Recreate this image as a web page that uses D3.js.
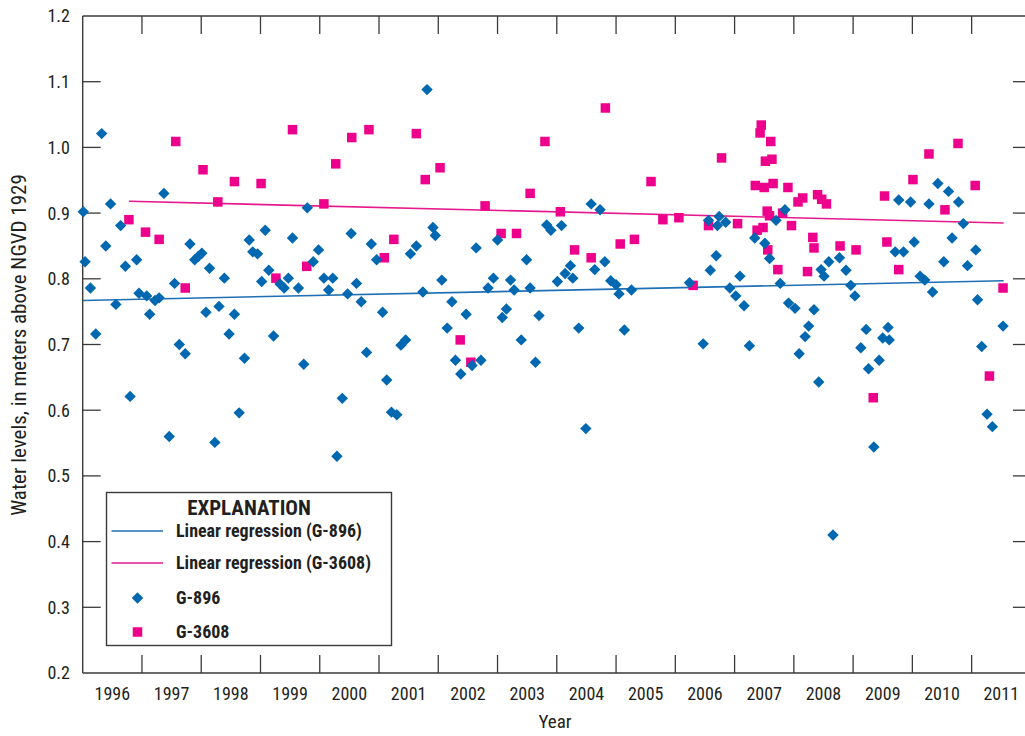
<!DOCTYPE html>
<html><head><meta charset="utf-8">
<script src="https://cdn.jsdelivr.net/npm/d3@7"></script>
<style>
html,body{margin:0;padding:0;background:#fff;}
svg{display:block;}
text{font-family:"Liberation Sans Narrow","Arial Narrow","Roboto Condensed","Liberation Sans",sans-serif;fill:#231f20;}
</style></head>
<body>
<svg id="chart" width="1025" height="736"></svg>
<script>
// ---- data (decimal year, water level in m above NGVD 1929) ----
const g896Year = [1996.01,1996.04,1996.13,1996.22,1996.32,1996.39,1996.47,1996.56,1996.64,1996.72,1996.80,1996.91,1996.95,
1997.08,1997.13,1997.22,1997.29,1997.37,1997.46,1997.55,1997.63,1997.73,1997.81,1997.89,1997.95,
1998.01,1998.08,1998.14,1998.23,1998.30,1998.39,1998.47,1998.56,1998.64,1998.73,1998.81,1998.87,1998.95,
1999.02,1999.08,1999.14,1999.22,1999.33,1999.40,1999.47,1999.54,1999.64,1999.73,1999.79,1999.89,1999.98,
2000.07,2000.15,2000.22,2000.29,2000.38,2000.47,2000.53,2000.62,2000.70,2000.79,2000.87,2000.96,
2001.06,2001.13,2001.21,2001.30,2001.37,2001.45,2001.53,2001.63,2001.74,2001.81,2001.91,2001.95,
2002.06,2002.15,2002.23,2002.29,2002.38,2002.47,2002.57,2002.64,2002.72,2002.84,2002.93,
2003.00,2003.08,2003.15,2003.22,2003.28,2003.40,2003.49,2003.55,2003.64,2003.70,2003.83,2003.90,
2004.01,2004.08,2004.14,2004.23,2004.27,2004.37,2004.49,2004.58,2004.64,2004.73,2004.81,2004.91,
2005.00,2005.05,2005.14,2005.26,
2006.24,2006.47,2006.56,2006.59,2006.69,2006.71,2006.74,2006.85,2006.92,
2007.02,2007.09,2007.16,2007.25,2007.34,2007.51,2007.59,2007.70,2007.77,2007.85,2007.91,
2008.02,2008.09,2008.19,2008.25,2008.34,2008.42,2008.46,2008.51,2008.59,2008.66,2008.77,2008.88,2008.96,
2009.03,2009.13,2009.22,2009.26,2009.35,2009.44,2009.50,2009.59,2009.61,2009.71,2009.77,2009.85,2009.97,
2010.03,2010.13,2010.21,2010.28,2010.34,2010.43,2010.53,2010.61,2010.67,2010.78,2010.86,2010.93,
2011.07,2011.10,2011.17,2011.26,2011.35,2011.53];
const g896Level = [0.902,0.826,0.786,0.716,1.021,0.850,0.914,0.761,0.881,0.819,0.621,0.829,0.778,
0.774,0.746,0.767,0.771,0.930,0.560,0.793,0.700,0.686,0.853,0.829,0.834,
0.839,0.749,0.816,0.551,0.758,0.801,0.716,0.746,0.596,0.679,0.859,0.841,0.838,
0.796,0.874,0.813,0.713,0.792,0.786,0.801,0.862,0.786,0.670,0.908,0.826,0.844,
0.801,0.783,0.801,0.530,0.618,0.777,0.869,0.793,0.765,0.688,0.853,0.829,
0.749,0.646,0.597,0.593,0.699,0.707,0.838,0.850,0.780,1.088,0.878,0.866,
0.798,0.725,0.765,0.676,0.655,0.746,0.668,0.847,0.676,0.786,0.801,
0.859,0.741,0.754,0.798,0.783,0.707,0.829,0.786,0.673,0.744,0.882,0.874,
0.796,0.881,0.808,0.820,0.801,0.725,0.572,0.914,0.814,0.905,0.826,0.797,
0.791,0.777,0.722,0.783,
0.794,0.701,0.889,0.813,0.835,0.881,0.895,0.886,0.786,
0.774,0.804,0.759,0.698,0.862,0.854,0.831,0.889,0.793,0.905,0.763,
0.755,0.686,0.712,0.728,0.753,0.643,0.814,0.804,0.826,0.410,0.832,0.813,0.790,
0.774,0.695,0.723,0.663,0.544,0.676,0.710,0.726,0.707,0.841,0.920,0.841,0.917,
0.856,0.804,0.798,0.914,0.780,0.945,0.826,0.933,0.862,0.917,0.884,0.820,
0.844,0.768,0.697,0.594,0.575,0.728];

const g3608Year = [1996.78,1997.06,1997.29,1997.57,1997.73,1998.03,1998.28,1998.56,1999.01,1999.26,1999.54,1999.78,
2000.07,2000.27,2000.54,2000.83,2001.09,2001.25,2001.63,2001.78,2002.03,2002.37,2002.55,2002.79,
2003.06,2003.32,2003.55,2003.80,2004.06,2004.30,2004.58,2004.82,2005.07,2005.31,2005.59,2005.79,
2006.06,2006.30,2006.56,2006.78,2007.05,2007.35,2007.38,2007.48,2007.45,2007.43,2007.61,2007.52,2007.63,
2007.50,2007.65,2007.90,2007.55,2007.59,2007.81,2007.96,2007.56,2007.73,
2008.07,2008.15,2008.23,2008.32,2008.34,2008.40,2008.47,2008.55,2008.78,
2009.05,2009.34,2009.53,2009.57,2009.77,2010.01,2010.28,2010.55,2010.77,2011.06,2011.30,2011.53];
const g3608Level = [0.890,0.871,0.860,1.009,0.786,0.966,0.917,0.948,0.945,0.801,1.027,0.819,
0.914,0.975,1.015,1.027,0.832,0.860,1.021,0.951,0.969,0.707,0.673,0.911,
0.869,0.869,0.930,1.009,0.902,0.844,0.832,1.060,0.853,0.860,0.948,0.890,
0.893,0.790,0.881,0.984,0.884,0.942,0.874,0.878,1.034,1.022,1.009,0.979,0.982,
0.939,0.945,0.939,0.903,0.896,0.900,0.881,0.844,0.814,
0.917,0.923,0.811,0.863,0.847,0.928,0.921,0.914,0.850,
0.844,0.619,0.926,0.856,0.814,0.951,0.990,0.905,1.006,0.942,0.652,0.786];

const regG896Year = [1996.0, 2011.54];
const regG896Level = [0.767, 0.797];
const regG3608Year = [1996.78, 2011.54];
const regG3608Level = [0.918, 0.885];

const yearBoundaries = d3.range(1996, 2013);           // tick marks
const yearLabels = d3.range(1996, 2012);               // labels at mid-year
const levelTicks = [0.2,0.3,0.4,0.5,0.6,0.7,0.8,0.9,1.0,1.1,1.2];

const BLUE = "#0067b1", PINK = "#ec008c";
const BLUE_LINE = "#1f6fb3", PINK_LINE = "#e6188d";

// ---- layout ----
const svg = d3.select("#chart");
const x = d3.scaleLinear().domain([1996, 2012]).range([82.7, 1030.9]);
const y = d3.scaleLinear().domain([0.2, 1.2]).range([673, 16]);

const frameColor = "#3a3a3a";
const TL = 18;

// frame
const g = svg.append("g");
g.append("line").attr("x1", x(1996)).attr("x2", x(2012)).attr("y1", y(1.2)).attr("y2", y(1.2)).attr("stroke", frameColor).attr("stroke-width", 1.4);
g.append("line").attr("x1", x(1996)).attr("x2", x(2012)).attr("y1", y(0.2)).attr("y2", y(0.2)).attr("stroke", frameColor).attr("stroke-width", 1.4);
g.append("line").attr("x1", x(1996)).attr("x2", x(1996)).attr("y1", y(1.2)).attr("y2", y(0.2)).attr("stroke", frameColor).attr("stroke-width", 1.4);
g.append("line").attr("x1", x(2012)).attr("x2", x(2012)).attr("y1", y(1.2)).attr("y2", y(0.2)).attr("stroke", frameColor).attr("stroke-width", 1.4);

// x ticks (inward, top and bottom)
yearBoundaries.slice(1, -1).forEach(v => {
  g.append("line").attr("x1", x(v)).attr("x2", x(v)).attr("y1", y(0.2)).attr("y2", y(0.2) - TL).attr("stroke", frameColor).attr("stroke-width", 1.3);
  g.append("line").attr("x1", x(v)).attr("x2", x(v)).attr("y1", y(1.2)).attr("y2", y(1.2) + TL).attr("stroke", frameColor).attr("stroke-width", 1.3);
});
// y ticks (inward, left and right)
levelTicks.slice(1, -1).forEach(v => {
  g.append("line").attr("x1", x(1996)).attr("x2", x(1996) + TL).attr("y1", y(v)).attr("y2", y(v)).attr("stroke", frameColor).attr("stroke-width", 1.3);
  g.append("line").attr("x1", x(2012)).attr("x2", x(2012) - TL).attr("y1", y(v)).attr("y2", y(v)).attr("stroke", frameColor).attr("stroke-width", 1.3);
});

// tick labels
g.selectAll("text.yl").data(levelTicks).enter().append("text")
  .attr("class", "yl").attr("x", 70).attr("y", d => y(d)).attr("dy", "0.36em")
  .attr("text-anchor", "end").style("font-size", "18px").text(d => d.toFixed(1));
g.selectAll("text.xl").data(yearLabels).enter().append("text")
  .attr("class", "xl").attr("x", d => x(d + 0.5)).attr("y", 700)
  .attr("text-anchor", "middle").style("font-size", "18px").text(d => d);

// axis titles
svg.append("text").attr("x", 555).attr("y", 728).attr("text-anchor", "middle")
  .style("font-size", "19px").text("Year");
svg.append("text").attr("transform", "translate(26,345) rotate(-90)").attr("text-anchor", "middle")
  .style("font-size", "21px").text("Water levels, in meters above NGVD 1929");

// regression lines
const line = d3.line().x(d => x(d[0])).y(d => y(d[1]));
svg.append("path").datum(d3.zip(regG896Year, regG896Level)).attr("d", line)
  .attr("fill", "none").attr("stroke", BLUE_LINE).attr("stroke-width", 1.6);
svg.append("path").datum(d3.zip(regG3608Year, regG3608Level)).attr("d", line)
  .attr("fill", "none").attr("stroke", PINK_LINE).attr("stroke-width", 1.6);

// markers
const D = 5.7;   // half diagonal of diamond
const S = 9.5;   // square side
const diamondPath = `M0,${-D}L${D},0L0,${D}L${-D},0Z`;
svg.append("g").selectAll("rect").data(d3.zip(g3608Year, g3608Level)).enter().append("rect")
  .attr("x", d => x(d[0]) - S / 2).attr("y", d => y(d[1]) - S / 2)
  .attr("width", S).attr("height", S).attr("fill", PINK);
svg.append("g").selectAll("path").data(d3.zip(g896Year, g896Level)).enter().append("path")
  .attr("transform", d => `translate(${x(d[0])},${y(d[1])})`)
  .attr("d", diamondPath).attr("fill", BLUE);

// legend
const lg = svg.append("g");
lg.append("rect").attr("x", 106.5).attr("y", 492.5).attr("width", 285).attr("height", 153)
  .attr("fill", "#fff").attr("stroke", frameColor).attr("stroke-width", 1.4);
lg.append("text").attr("x", 249).attr("y", 515).attr("text-anchor", "middle")
  .style("font-size", "21px").style("font-weight", "bold").text("EXPLANATION");
const items = [
  {type: "line", color: BLUE_LINE, label: "Linear regression (G-896)", yy: 531},
  {type: "line", color: PINK_LINE, label: "Linear regression (G-3608)", yy: 563},
  {type: "diamond", color: BLUE, label: "G-896", yy: 598},
  {type: "square", color: PINK, label: "G-3608", yy: 632}
];
items.forEach(it => {
  if (it.type === "line") {
    lg.append("line").attr("x1", 111.5).attr("x2", 163).attr("y1", it.yy).attr("y2", it.yy)
      .attr("stroke", it.color).attr("stroke-width", 1.6);
  } else if (it.type === "diamond") {
    lg.append("path").attr("transform", `translate(137.5,${it.yy})`).attr("d", diamondPath).attr("fill", it.color);
  } else {
    lg.append("rect").attr("x", 137.5 - S / 2).attr("y", it.yy - S / 2).attr("width", S).attr("height", S).attr("fill", it.color);
  }
  lg.append("text").attr("x", 176).attr("y", it.yy).attr("dy", "0.36em")
    .style("font-size", "18px").style("font-weight", "bold").text(it.label);
});
</script>
</body></html>
